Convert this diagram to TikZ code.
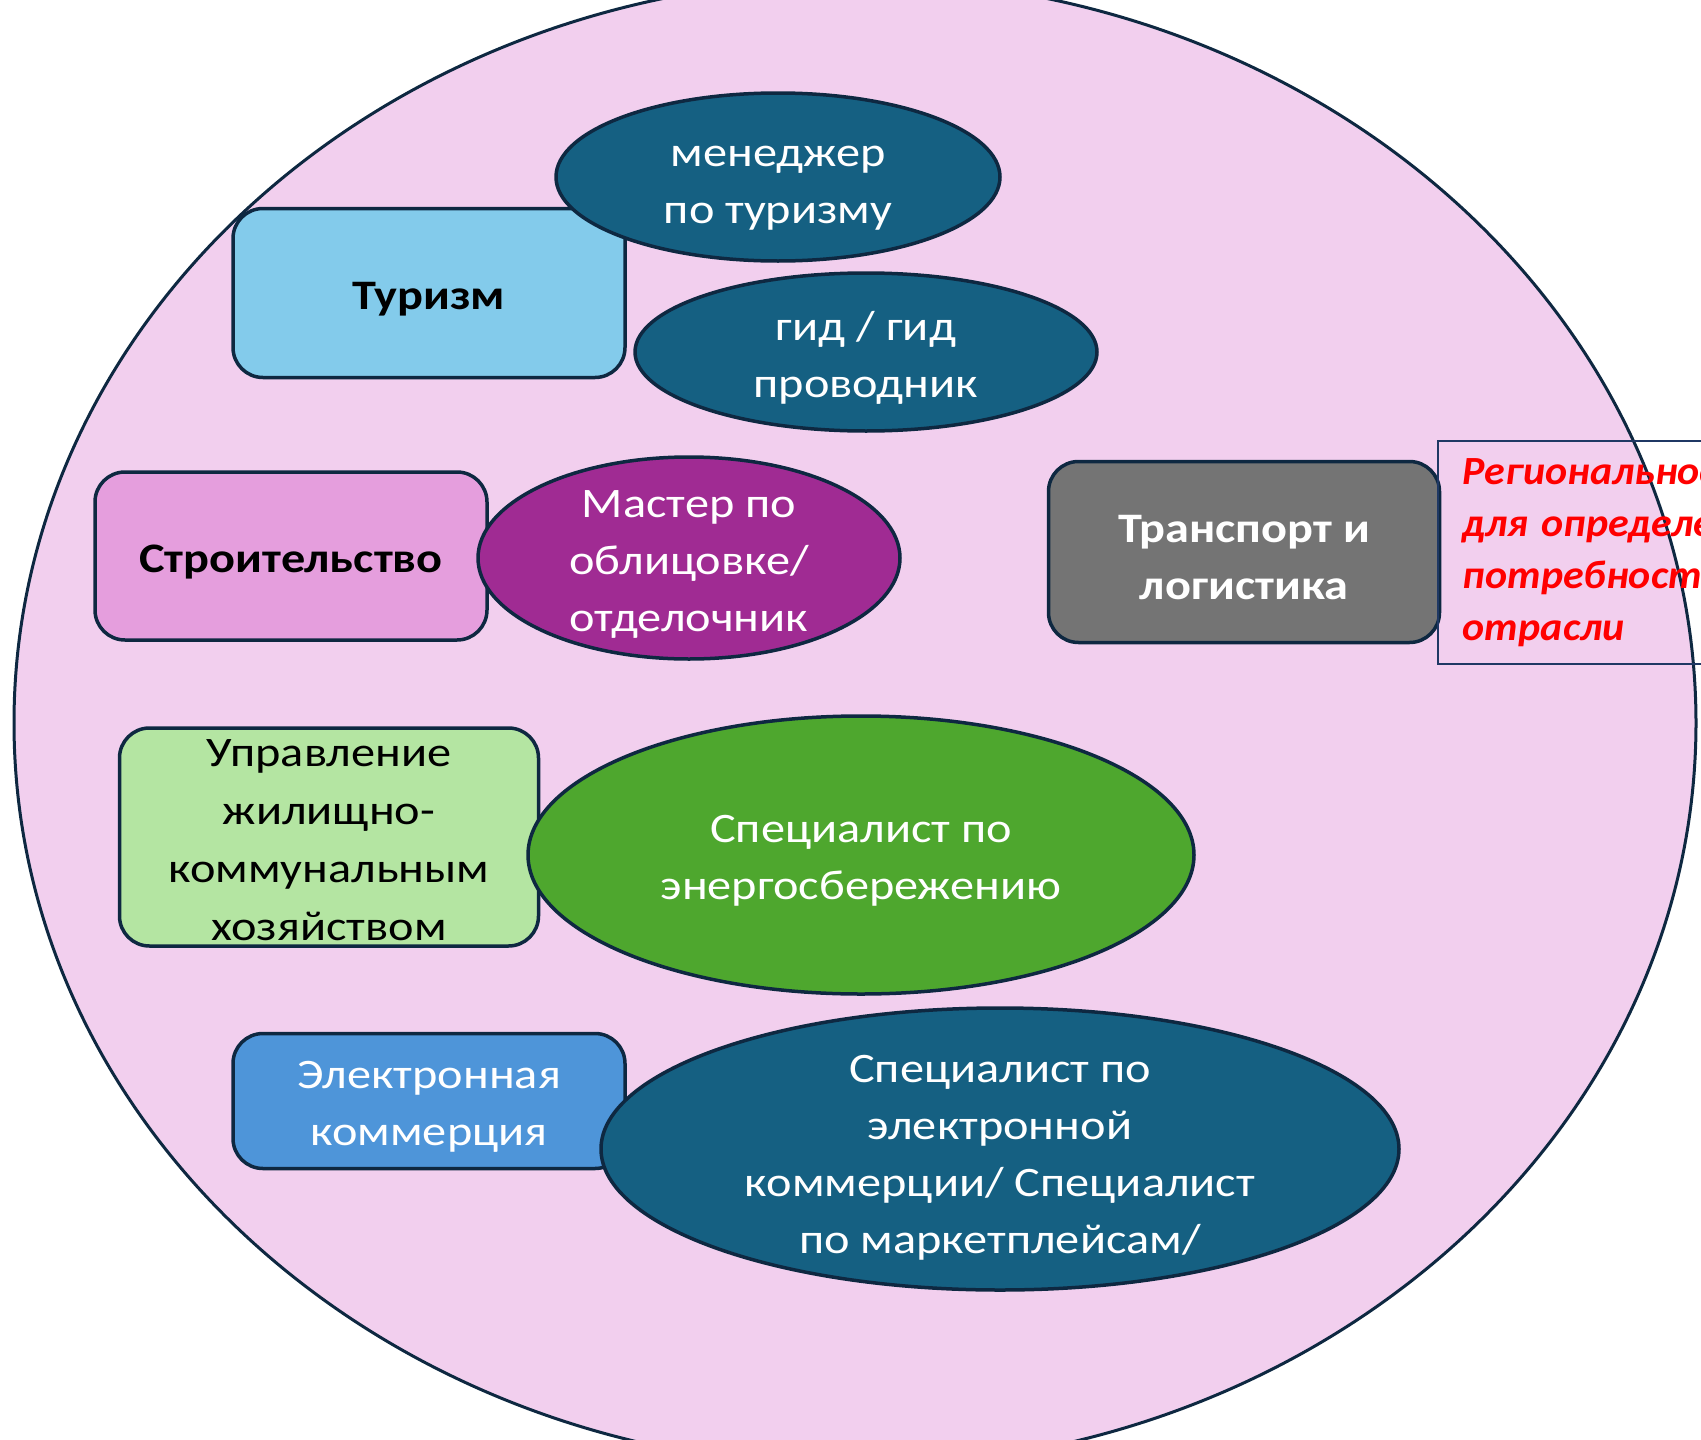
\documentclass[tikz,border=0pt]{standalone}
\usepackage{fontspec}
\setmainfont{Carlito}[FakeStretch=1.15]
\newfontfamily\notefont{Carlito}[FakeStretch=1.05]
\usepackage{xcolor}
\usepackage{tikz}
\usetikzlibrary{shapes.geometric}

\definecolor{bgpink}{HTML}{F2CFEE}
\definecolor{navy}{HTML}{0E2841}
\definecolor{skyfill}{HTML}{83CBEB}
\definecolor{orchidfill}{HTML}{E59EDD}
\definecolor{plumfill}{HTML}{A02B93}
\definecolor{tealfill}{HTML}{156082}
\definecolor{greyfill}{HTML}{747474}
\definecolor{mintfill}{HTML}{B4E5A2}
\definecolor{leaffill}{HTML}{4EA72E}
\definecolor{bluefill}{HTML}{4E95D9}
\definecolor{boxline}{HTML}{1F3864}

\begin{document}
\begin{tikzpicture}[x=1pt,y=-1pt,
    sector/.style={rectangle, draw=navy, line width=3.5pt, rounded corners=30pt, inner sep=0pt},
    job/.style={ellipse, draw=navy, line width=3.5pt, inner sep=0pt},
    jobtext/.style={align=center, text=white, yshift=-6pt, font=\fontsize{42}{57}\selectfont},
    sectortext/.style={jobtext, text=black},
    boldtext/.style={sectortext, font=\bfseries\fontsize{42}{57}\selectfont}]
    \useasboundingbox (0,0) rectangle (1701,1440);
    \clip (0,0) rectangle (1701,1440);

    % big oval
    \draw[fill=bgpink, draw=navy, line width=3pt] (855,723) ellipse [x radius=841pt, y radius=744pt];

    % tourism
    \node[sector, fill=skyfill, minimum width=392pt, minimum height=169pt,
        label={[boldtext]center:Туризм}] (tourism) at (429,293) {};
    \node[job, fill=tealfill, minimum width=444pt, minimum height=168pt,
        label={[jobtext, yshift=-5pt]center:менеджер\\по туризму}] (manager) at (778,177) {};
    \node[job, fill=tealfill, minimum width=462pt, minimum height=158pt,
        label={[jobtext]center:гид / гид\\проводник}] (guide) at (866,352) {};

    % construction
    \node[sector, fill=orchidfill, minimum width=392pt, minimum height=168pt,
        label={[boldtext]center:Строительство}] (building) at (291,556) {};
    \node[job, fill=plumfill, minimum width=422pt, minimum height=202pt,
        label={[jobtext]center:Мастер по\\облицовке/\\отделочник}] (finisher) at (689,558) {};

    % transport
    \node[sector, fill=greyfill, minimum width=391pt, minimum height=181pt,
        label={[boldtext, text=white]center:Транспорт и\\логистика}] (transport) at (1244,552) {};
    \node[draw=boxline, line width=1.5pt, anchor=north west, minimum height=223pt, text width=400pt,
        inner xsep=25pt, inner ysep=0pt, align=left, text=red,
        font=\notefont\bfseries\itshape\fontsize{40}{52}\selectfont] (survey) at (1437,440)
        {Региональность\\для определения\\потребности\\отрасли};

    % housing
    \node[sector, fill=mintfill, minimum width=419pt, minimum height=218pt,
        label={[sectortext, yshift=3pt, font=\fontsize{42}{58}\selectfont]center:Управление\\жилищно-\\коммунальным\\хозяйством}] (housing) at (329,837) {};
    \node[job, fill=leaffill, minimum width=666pt, minimum height=278pt,
        label={[jobtext]center:Специалист по\\энергосбережению}] (energy) at (861,855) {};

    % e-commerce
    \node[sector, fill=bluefill, minimum width=392pt, minimum height=135pt,
        label={[jobtext]center:Электронная\\коммерция}] (ecom) at (429,1101) {};
    \node[job, fill=tealfill, minimum width=798pt, minimum height=282pt,
        label={[jobtext, yshift=-3pt]center:Специалист по\\электронной\\коммерции/ Специалист\\по маркетплейсам/}] (seller) at (1000,1149) {};
\end{tikzpicture}
\end{document}
